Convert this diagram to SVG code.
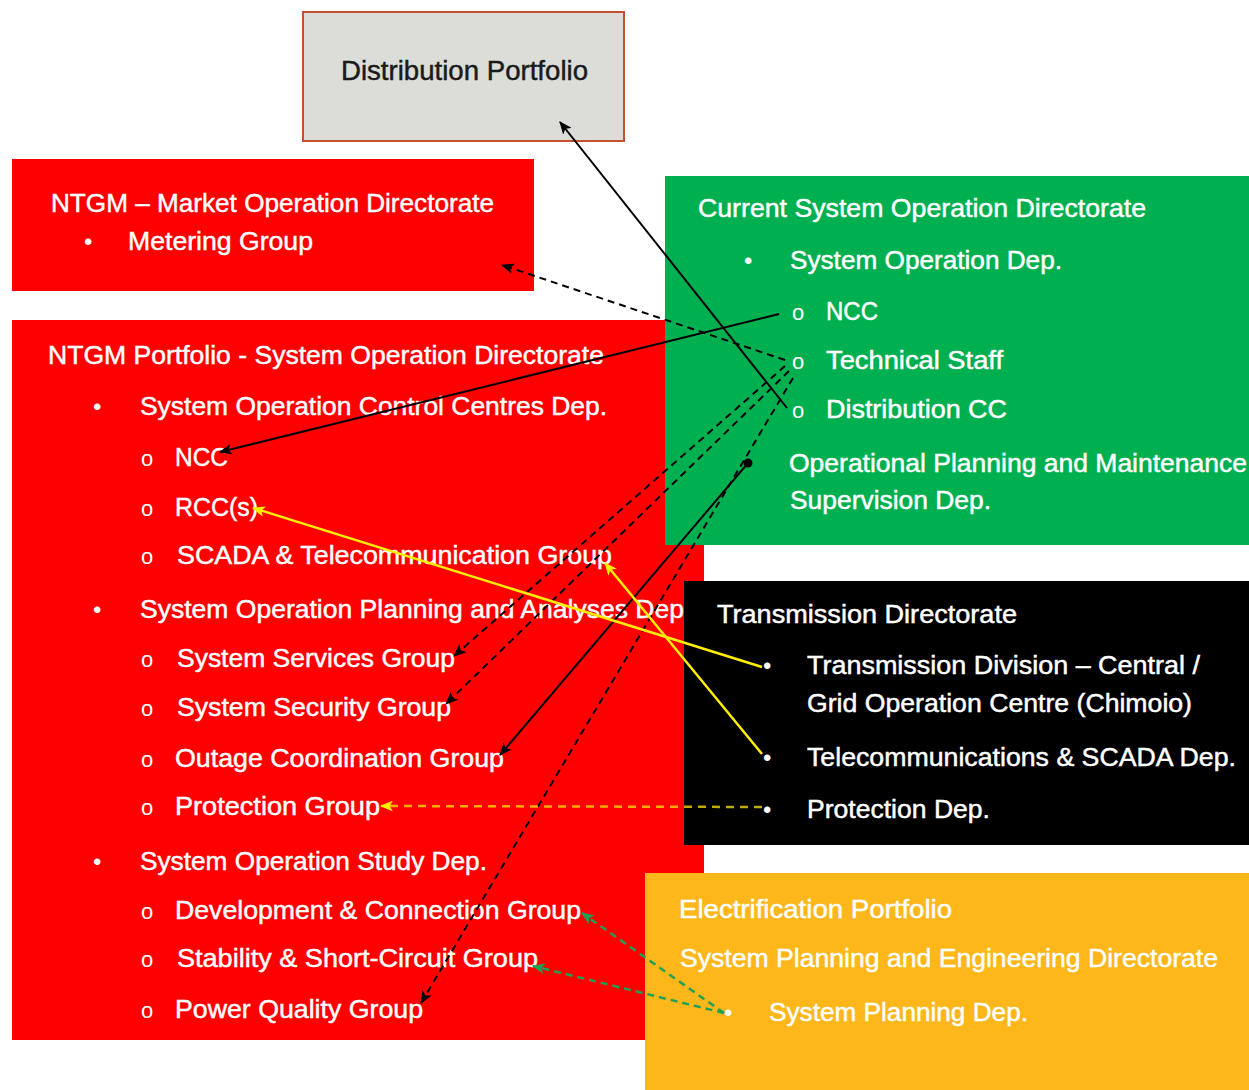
<svg xmlns="http://www.w3.org/2000/svg" width="1249" height="1090" viewBox="0 0 1249 1090">
<defs>
<style>
.t{font-family:"Liberation Sans",Arial,sans-serif;font-size:25px;fill:#ffffff;stroke:#ffffff;stroke-width:0.45}
.dk{fill:#1a1a1a;stroke:#1a1a1a;font-size:27px}
.b{font-family:"Liberation Sans",Arial,sans-serif;font-size:24px;fill:#ffffff}
.o{font-family:"Liberation Sans",Arial,sans-serif;font-size:22px;fill:#ffffff}
.ln{fill:none;stroke-width:2}
.blk{stroke:#000000}
.dash{stroke-dasharray:7 5}
.yel{stroke:#ffee00;stroke-width:2.5}
.ydash{stroke:#ffe600;stroke-opacity:0.75;stroke-dasharray:8 6;stroke-width:2.5}
.grn{stroke:#1fa055;stroke-dasharray:7 5;stroke-width:2.5}
</style>
<marker id="ab" viewBox="0 0 12 10" refX="11" refY="5" markerWidth="13" markerHeight="11" markerUnits="userSpaceOnUse" orient="auto"><path d="M0,0 L12,5 L0,10 L3,5 z" fill="#000000"/></marker>
<marker id="ay" viewBox="0 0 12 10" refX="11" refY="5" markerWidth="13" markerHeight="11" markerUnits="userSpaceOnUse" orient="auto"><path d="M0,0 L12,5 L0,10 L3,5 z" fill="#ffee00"/></marker>
<marker id="ag" viewBox="0 0 12 10" refX="11" refY="5" markerWidth="13" markerHeight="11" markerUnits="userSpaceOnUse" orient="auto"><path d="M0,0 L12,5 L0,10 L3,5 z" fill="#1fa055"/></marker>
</defs>
<rect width="1249" height="1090" fill="#ffffff"/>

<g id="distribution-portfolio">
<rect x="303" y="12" width="321" height="129" fill="#dcddd8" stroke="#c4502f" stroke-width="2"/>
<text class="t dk" x="341" y="80" textLength="247" lengthAdjust="spacingAndGlyphs">Distribution Portfolio</text>
</g>

<g id="market-operation">
<rect x="12" y="159" width="522" height="132" fill="#ff0000"/>
<text class="t" x="51" y="212" textLength="443" lengthAdjust="spacingAndGlyphs">NTGM – Market Operation Directorate</text>
<text class="b" x="84" y="250">•</text>
<text class="t" x="128" y="250" textLength="185" lengthAdjust="spacingAndGlyphs">Metering Group</text>
</g>

<g id="system-operation-directorate">
<rect x="12" y="320" width="692" height="720" fill="#ff0000"/>
<text class="t" x="48" y="364" textLength="556" lengthAdjust="spacingAndGlyphs">NTGM Portfolio - System Operation Directorate</text>
<text class="b" x="93" y="415">•</text>
<text class="t" x="140" y="415" textLength="467" lengthAdjust="spacingAndGlyphs">System Operation Control Centres Dep.</text>
<text class="o" x="141" y="466">o</text>
<text class="t" x="175" y="466" textLength="53" lengthAdjust="spacingAndGlyphs">NCC</text>
<text class="o" x="141" y="516">o</text>
<text class="t" x="175" y="516" textLength="83" lengthAdjust="spacingAndGlyphs">RCC(s)</text>
<text class="o" x="141" y="564">o</text>
<text class="t" x="177" y="564" textLength="435" lengthAdjust="spacingAndGlyphs">SCADA &amp; Telecommunication Group</text>
<text class="b" x="93" y="618">•</text>
<text class="t" x="140" y="618" textLength="544" lengthAdjust="spacingAndGlyphs">System Operation Planning and Analyses Dep</text>
<text class="o" x="141" y="667">o</text>
<text class="t" x="177" y="667" textLength="278" lengthAdjust="spacingAndGlyphs">System Services Group</text>
<text class="o" x="141" y="716">o</text>
<text class="t" x="177" y="716" textLength="274" lengthAdjust="spacingAndGlyphs">System Security Group</text>
<text class="o" x="141" y="767">o</text>
<text class="t" x="175" y="767" textLength="329" lengthAdjust="spacingAndGlyphs">Outage Coordination Group</text>
<text class="o" x="141" y="815">o</text>
<text class="t" x="175" y="815" textLength="205" lengthAdjust="spacingAndGlyphs">Protection Group</text>
<text class="b" x="93" y="870">•</text>
<text class="t" x="140" y="870" textLength="347" lengthAdjust="spacingAndGlyphs">System Operation Study Dep.</text>
<text class="o" x="141" y="919">o</text>
<text class="t" x="175" y="919" textLength="406" lengthAdjust="spacingAndGlyphs">Development &amp; Connection Group</text>
<text class="o" x="141" y="967">o</text>
<text class="t" x="177" y="967" textLength="361" lengthAdjust="spacingAndGlyphs">Stability &amp; Short-Circuit Group</text>
<text class="o" x="141" y="1018">o</text>
<text class="t" x="175" y="1018" textLength="248" lengthAdjust="spacingAndGlyphs">Power Quality Group</text>
</g>

<g id="current-system-operation">
<rect x="665" y="176" width="584" height="369" fill="#00b050"/>
<text class="t" x="698" y="217" textLength="448" lengthAdjust="spacingAndGlyphs">Current System Operation Directorate</text>
<text class="b" x="744" y="269">•</text>
<text class="t" x="790" y="269" textLength="272" lengthAdjust="spacingAndGlyphs">System Operation Dep.</text>
<text class="o" x="792" y="320">o</text>
<text class="t" x="826" y="320" textLength="52" lengthAdjust="spacingAndGlyphs">NCC</text>
<text class="o" x="792" y="369">o</text>
<text class="t" x="826" y="369" textLength="177" lengthAdjust="spacingAndGlyphs">Technical Staff</text>
<text class="o" x="792" y="418">o</text>
<text class="t" x="826" y="418" textLength="181" lengthAdjust="spacingAndGlyphs">Distribution CC</text>
<circle cx="748" cy="463" r="4.5" fill="#000000"/>
<text class="t" x="789" y="472" textLength="458" lengthAdjust="spacingAndGlyphs">Operational Planning and Maintenance</text>
<text class="t" x="790" y="509" textLength="201" lengthAdjust="spacingAndGlyphs">Supervision Dep.</text>
</g>

<g id="transmission-directorate">
<rect x="684" y="581" width="565" height="264" fill="#000000"/>
<text class="t" x="717" y="623" textLength="300" lengthAdjust="spacingAndGlyphs">Transmission Directorate</text>
<text class="b" x="763" y="674">•</text>
<text class="t" x="807" y="674" textLength="393" lengthAdjust="spacingAndGlyphs">Transmission Division – Central /</text>
<text class="t" x="807" y="712" textLength="385" lengthAdjust="spacingAndGlyphs">Grid Operation Centre (Chimoio)</text>
<text class="b" x="763" y="766">•</text>
<text class="t" x="807" y="766" textLength="429" lengthAdjust="spacingAndGlyphs">Telecommunications &amp; SCADA Dep.</text>
<text class="b" x="763" y="818">•</text>
<text class="t" x="807" y="818" textLength="183" lengthAdjust="spacingAndGlyphs">Protection Dep.</text>
</g>

<g id="electrification-portfolio">
<rect x="645" y="873" width="604" height="217" fill="#fdb71a"/>
<text class="t" x="679" y="918" textLength="273" lengthAdjust="spacingAndGlyphs">Electrification Portfolio</text>
<text class="t" x="680" y="967" textLength="538" lengthAdjust="spacingAndGlyphs">System Planning and Engineering Directorate</text>
<text class="b" x="724" y="1021">•</text>
<text class="t" x="769" y="1021" textLength="259" lengthAdjust="spacingAndGlyphs">System Planning Dep.</text>
</g>

<g id="connectors">
<path class="ln blk" d="M787,408 L560,122" marker-end="url(#ab)"/>
<path class="ln blk" d="M779,314 L220,452" marker-end="url(#ab)"/>
<path class="ln blk dash" d="M785,360 L502,265" marker-end="url(#ab)"/>
<path class="ln blk dash" d="M785,366 L454,656" marker-end="url(#ab)"/>
<path class="ln blk dash" d="M789,371 L446,704" marker-end="url(#ab)"/>
<path class="ln blk dash" d="M793,378 L421,1003" marker-end="url(#ab)"/>
<path class="ln blk" d="M748,463 L500,755" marker-end="url(#ab)"/>
<path class="ln yel" d="M762,667 L253,508" marker-end="url(#ay)"/>
<path class="ln yel" d="M762,754 L605,563" marker-end="url(#ay)"/>
<path class="ln ydash" d="M762,807 L381,806" marker-end="url(#ay)"/>
<path class="ln grn" d="M724,1013 L582,913" marker-end="url(#ag)"/>
<path class="ln grn" d="M724,1013 L533,966" marker-end="url(#ag)"/>
</g>
</svg>
